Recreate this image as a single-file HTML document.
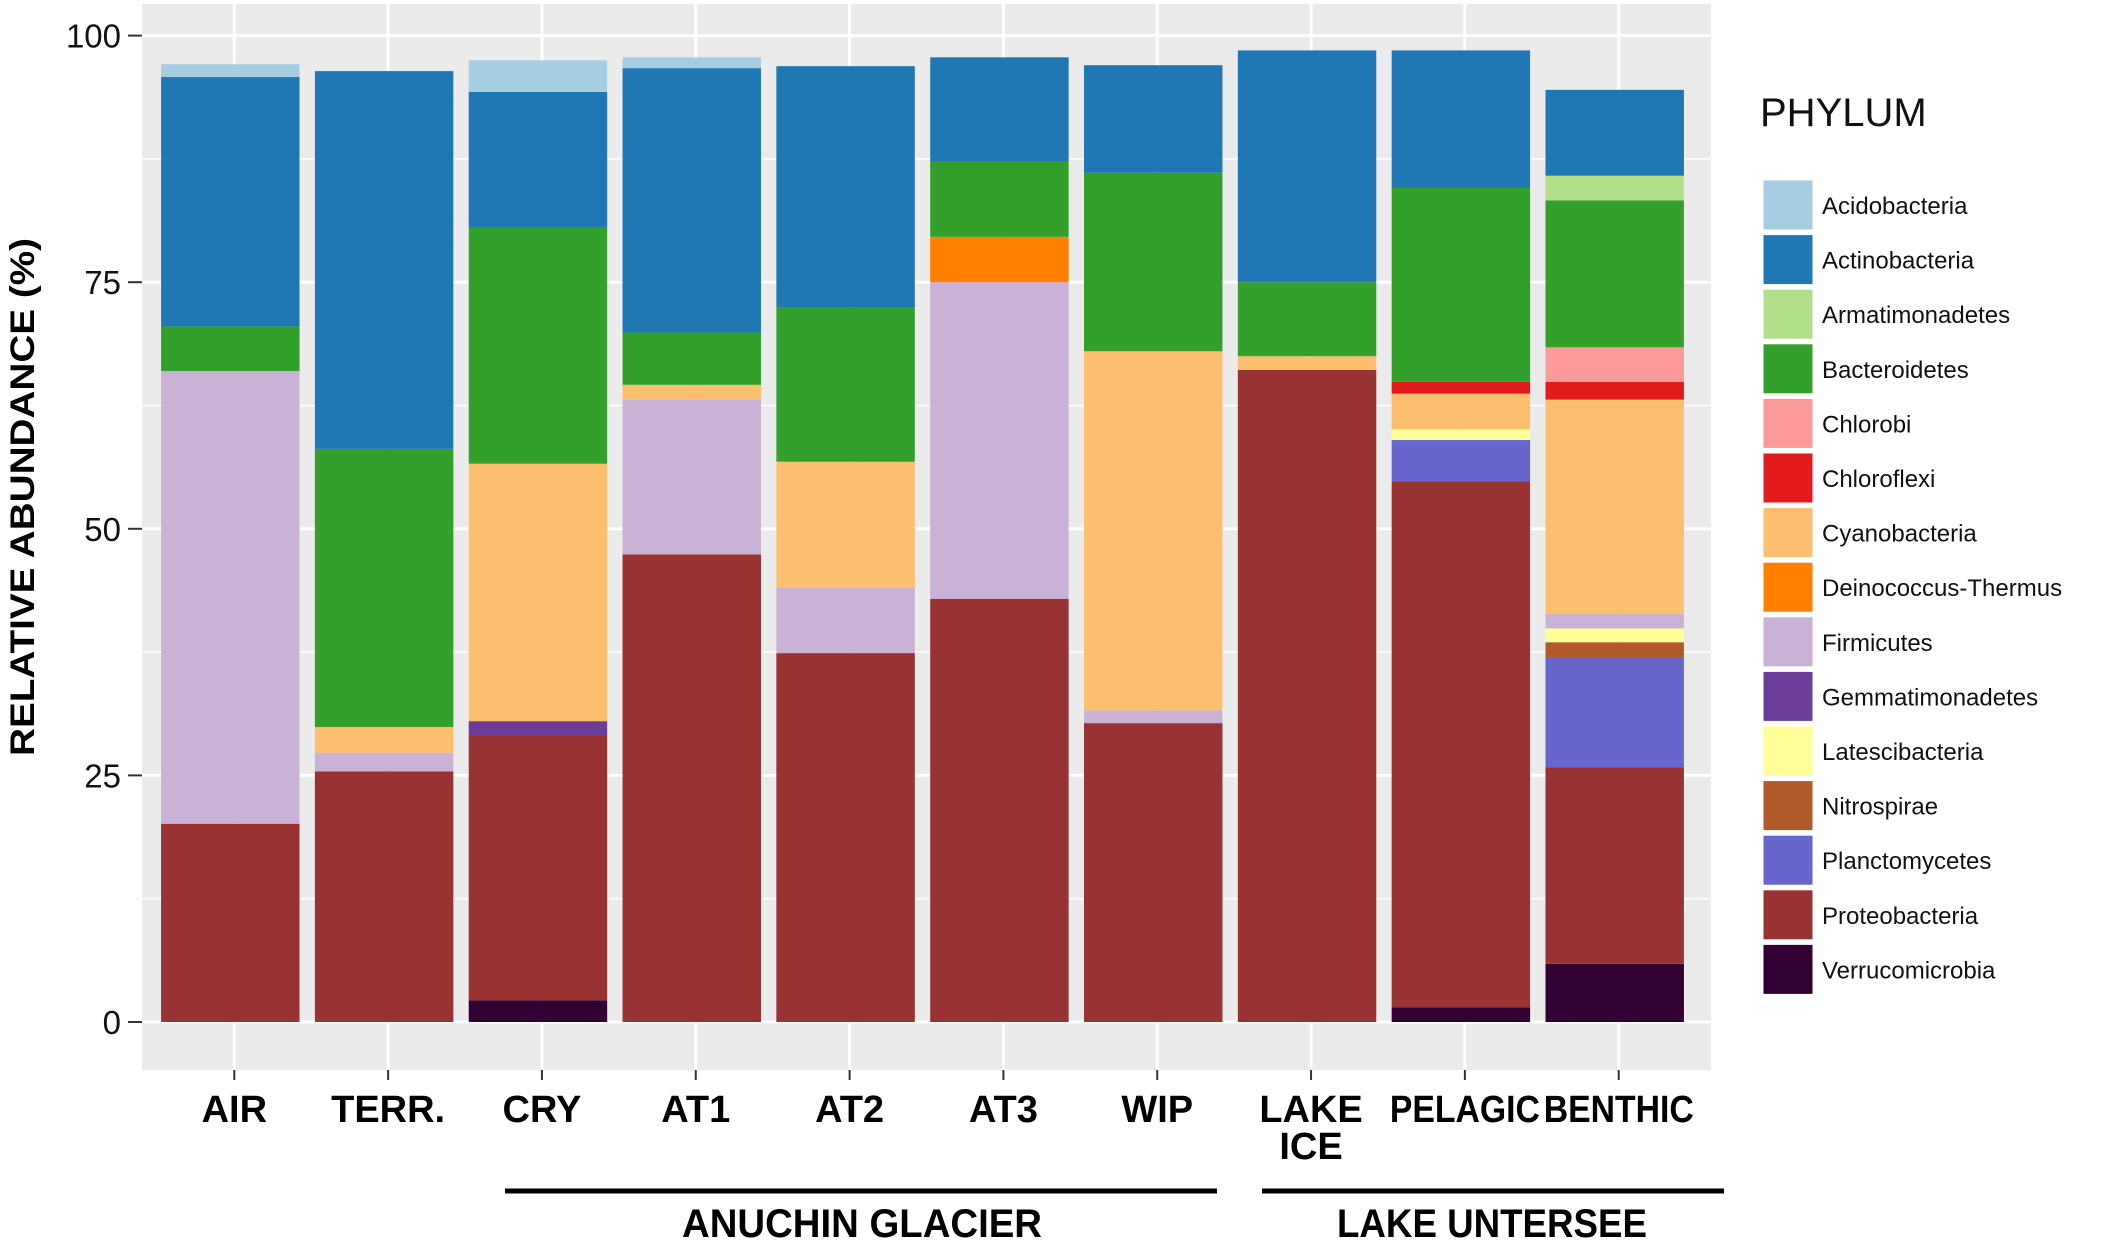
<!DOCTYPE html>
<html><head><meta charset="utf-8"><style>
html,body{margin:0;padding:0;background:#fff;}
svg{display:block;}
text{font-family:"Liberation Sans","DejaVu Sans",sans-serif;}
</style></head><body>
<svg id="chart" width="2111" height="1242" viewBox="0 0 2111 1242" xmlns="http://www.w3.org/2000/svg">
<rect x="142" y="4" width="1569" height="1066" fill="#ebebeb"/>
<g id="grid"></g><g id="bars"></g><g id="axes"></g><g id="legend"></g>
<text transform="translate(34,497) rotate(-90)" text-anchor="middle" font-weight="bold" font-size="34" textLength="518" lengthAdjust="spacingAndGlyphs">RELATIVE ABUNDANCE (%)</text>
<line x1="505" y1="1191" x2="1217" y2="1191" stroke="#000" stroke-width="5"/>
<line x1="1262" y1="1191" x2="1724" y2="1191" stroke="#000" stroke-width="5"/>
<text x="862" y="1237" text-anchor="middle" font-weight="bold" font-size="40" textLength="360" lengthAdjust="spacingAndGlyphs">ANUCHIN GLACIER</text>
<text x="1492" y="1237" text-anchor="middle" font-weight="bold" font-size="40" textLength="310" lengthAdjust="spacingAndGlyphs">LAKE UNTERSEE</text>
</svg>
<script>
const categories = ["AIR","TERR.","CRY","AT1","AT2","AT3","WIP","LAKE\nICE","PELAGIC","BENTHIC"];
const phyla = ["Acidobacteria","Actinobacteria","Armatimonadetes","Bacteroidetes","Chlorobi","Chloroflexi","Cyanobacteria","Deinococcus-Thermus","Firmicutes","Gemmatimonadetes","Latescibacteria","Nitrospirae","Planctomycetes","Proteobacteria","Verrucomicrobia"];
const colors = ["#a6cee3","#1f78b4","#b2df8a","#33a02c","#fb9a99","#e31a1c","#fdbf6f","#ff7f00","#cab2d6","#6a3d9a","#ffff99","#b15928","#6666cc","#993333","#330033"];
const acidobacteria   = [1.3,0,3.2,1.1,0,0,0,0,0,0];
const actinobacteria  = [25.3,38.3,13.7,26.8,24.5,10.6,10.9,23.5,13.9,8.7];
const armatimonadetes = [0,0,0,0,0,0,0,0,0,2.5];
const bacteroidetes   = [4.5,28.2,24,5.3,15.6,7.6,18.1,7.5,19.7,14.9];
const chlorobi        = [0,0,0,0,0,0,0,0,0,3.5];
const chloroflexi     = [0,0,0,0,0,0,0,0,1.2,1.8];
const cyanobacteria   = [0,2.6,26.1,1.5,12.8,0,36.4,1.4,3.6,21.7];
const deinococcus     = [0,0,0,0,0,4.6,0,0,0,0];
const firmicutes      = [45.9,1.9,0,15.7,6.6,32.1,1.3,0,0,1.5];
const gemmatimonadetes= [0,0,1.4,0,0,0,0,0,0,0];
const latescibacteria = [0,0,0,0,0,0,0,0,1.1,1.4];
const nitrospirae     = [0,0,0,0,0,0,0,0,0,1.5];
const planctomycetes  = [0,0,0,0,0,0,0,0,4.2,11.2];
const proteobacteria  = [20.1,25.4,26.9,47.4,37.4,42.9,30.3,66.1,53.3,19.9];
const verrucomicrobia = [0,0,2.2,0,0,0,0,0,1.5,5.9];
const yTicks = [0,25,50,75,100];
const series = [acidobacteria,actinobacteria,armatimonadetes,bacteroidetes,chlorobi,chloroflexi,cyanobacteria,deinococcus,firmicutes,gemmatimonadetes,latescibacteria,nitrospirae,planctomycetes,proteobacteria,verrucomicrobia];

const NS="http://www.w3.org/2000/svg";
const PL=142, PR=1711, Y0=1022, Y100=35.6;
const step=(PR-PL)/(categories.length-1+1.2);
const xc=i=>PL+step*(0.6+i);
const y=v=>Y0-(Y0-Y100)*v/100;
const bw=step*0.9;
function mk(tag,attrs,parent){const e=document.createElementNS(NS,tag);for(const k in attrs)e.setAttribute(k,attrs[k]);parent.appendChild(e);return e;}
const grid=document.getElementById('grid'),bars=document.getElementById('bars'),axes=document.getElementById('axes'),legend=document.getElementById('legend');
for(let v=12.5;v<100;v+=25){const l=mk('line',{x1:PL,x2:PR,y1:y(v),y2:y(v),stroke:'#fff','stroke-width':1.5},grid);

}
yTicks.forEach(v=>{const l=mk('line',{x1:PL,x2:PR,y1:y(v),y2:y(v),stroke:'#fff','stroke-width':3},grid);


const t=mk('line',{x1:128,x2:142,y1:y(v),y2:y(v),stroke:'#333','stroke-width':2},axes);


const tx=mk('text',{x:121,y:y(v)+12,'text-anchor':'end','font-size':33,fill:'#111','font-family':'DejaVu Sans, sans-serif'},axes);


tx.textContent=v;});
categories.forEach((c,i)=>{
 const g=mk('line',{x1:xc(i),x2:xc(i),y1:4,y2:1070,stroke:'#fff','stroke-width':3},grid);
 
 
 const t=mk('line',{x1:xc(i),x2:xc(i),y1:1070,y2:1080,stroke:'#333','stroke-width':2},axes);
 
 
 const lines=c.split('\n');
 lines.forEach((ln,j)=>{const tx=mk('text',{x:xc(i),y:1122+j*37,'text-anchor':'middle','font-size':38,'font-weight':'bold'},axes);
 
 
 tx.textContent=ln;
 if(tx.getComputedTextLength()>150){tx.setAttribute('textLength',150);tx.setAttribute('lengthAdjust','spacingAndGlyphs');}
 });
 let acc=0;
 for(let p=series.length-1;p>=0;p--){const v=series[p][i];if(!v)continue;
  const r=mk('rect',{x:xc(i)-4-bw/2,y:y(acc+v),width:bw,height:y(acc)-y(acc+v),fill:colors[p]},bars);
  
  
  acc+=v;}
});
const lt=mk('text',{x:1760,y:126,'font-size':40,fill:'#111','font-family':'DejaVu Sans, sans-serif'},legend);


lt.textContent='PHYLUM';
phyla.forEach((p,k)=>{const top=180+k*54.6;
 const r=mk('rect',{x:1763,y:top,width:50,height:50,fill:colors[k],stroke:'#fff','stroke-width':1},legend);
 
 
 const t=mk('text',{x:1822,y:top+34,'font-size':24,fill:'#111','font-family':'DejaVu Sans, sans-serif'},legend);
 
 
 t.textContent=p;});
</script>
</body></html>
